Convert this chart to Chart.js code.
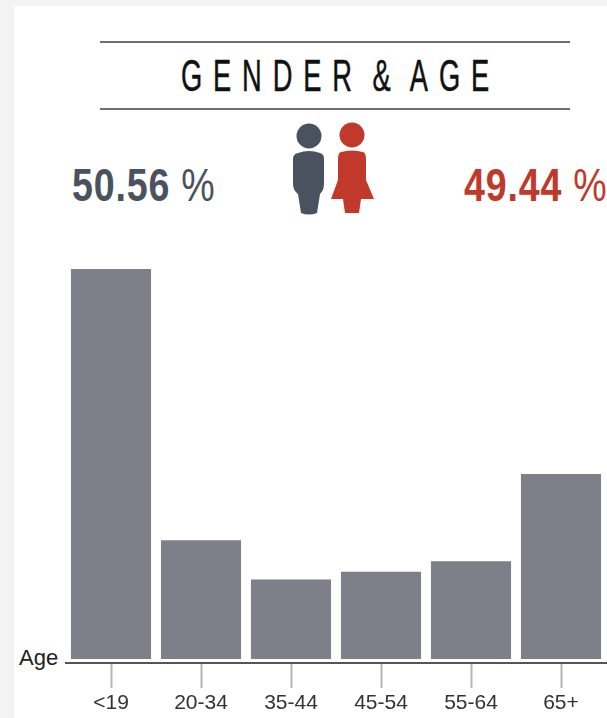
<!DOCTYPE html>
<html>
<head>
<meta charset="utf-8">
<style>
  html, body { margin: 0; padding: 0; background: #f3f3f3; }
  body { width: 607px; height: 718px; position: relative; overflow: hidden; }
  .panel { position: absolute; left: 14px; top: 6px; width: 593px; height: 712px; background: #fff; }
  .rule { position: absolute; left: 100px; width: 470px; height: 2px; background: #6f6f6f; }
  .title, .pct, .axis-name { position: absolute; white-space: nowrap; transform-origin: left center; }
  .title { left: 181px; top: 49px; font: 44px/54px "Liberation Sans", sans-serif; letter-spacing: 17.5px; word-spacing: -14px; color: #111; transform: scaleX(0.62); -webkit-text-stroke: 0.5px #111; }
  .pct { top: 157px; font: bold 47px/56px "Liberation Sans", sans-serif; transform: scaleX(0.8); letter-spacing: 1px; }
  .pct span { font-weight: normal; }
  .men { left: 72px; color: #4a5260; }
  .women { left: 464px; color: #c0392b; }
  .axis-name { left: 19px; top: 646px; font: 22px/24px "Liberation Sans", sans-serif; color: #222; }
  canvas { position: absolute; left: 0; top: 0; }
  svg { position: absolute; left: 285px; top: 118px; }
</style>
</head>
<body>
<div class="panel"></div>
<div class="rule" style="top:41px"></div>
<div class="rule" style="top:108px"></div>
<div class="title">GENDER &amp; AGE</div>
<div class="pct men">50.56 <span>%</span></div>
<div class="pct women">49.44 <span>%</span></div>
<svg width="100" height="104" viewBox="285 118 100 104">
  <circle cx="309" cy="136" r="12.5" fill="#4a5260"/>
  <path d="M298 153 Q309 149 320 153 Q324 154 324 159 L324 184 Q324 190 320 194 L317 213 Q309 216 301 213 L298 194 Q293 190 293 184 L293 159 Q293 154 298 153 Z" fill="#4a5260"/>
  <circle cx="352" cy="135" r="12.5" fill="#c0392b"/>
  <path d="M341 152 Q352 149 363 152 Q366 153 366 159 L366 180 L374 199 L361 199 L359 213 L345 213 L343 199 L331 199 L338 180 L338 159 Q338 153 341 152 Z" fill="#c0392b"/>
</svg>
<div class="axis-name">Age</div>
<canvas id="chartAge" width="607" height="718"></canvas>
<script src="https://cdn.jsdelivr.net/npm/chart.js@4"></script>
<script>
const AGE_GROUPS = ['<19', '20-34', '35-44', '45-54', '55-64', '65+'];
const AGE_SHARE = [40.7, 12.4, 8.3, 9.1, 10.2, 19.3];

new Chart(document.getElementById('chartAge'), {
  type: 'bar',
  data: {
    labels: AGE_GROUPS,
    datasets: [{
      data: AGE_SHARE,
      backgroundColor: '#7d7f89',
      barPercentage: 0.89,
      categoryPercentage: 1
    }]
  },
  options: {
    responsive: false,
    animation: false,
    layout: { padding: { left: 66, right: 1, top: 269, bottom: 0 } },
    plugins: { legend: { display: false }, tooltip: { enabled: false } },
    scales: {
      x: {
        afterFit: s => { s.height = 55; },
        border: { color: '#555', width: 2 },
        grid: { offset: false, drawOnChartArea: false, tickLength: 25, tickColor: '#b5b5b5', tickWidth: 2 },
        ticks: { color: '#333', padding: 3, maxRotation: 0, font: { family: 'Liberation Sans', size: 21 } }
      },
      y: { display: false, min: -0.42, max: 40.7 }
    }
  }
});
</script>
</body>
</html>
